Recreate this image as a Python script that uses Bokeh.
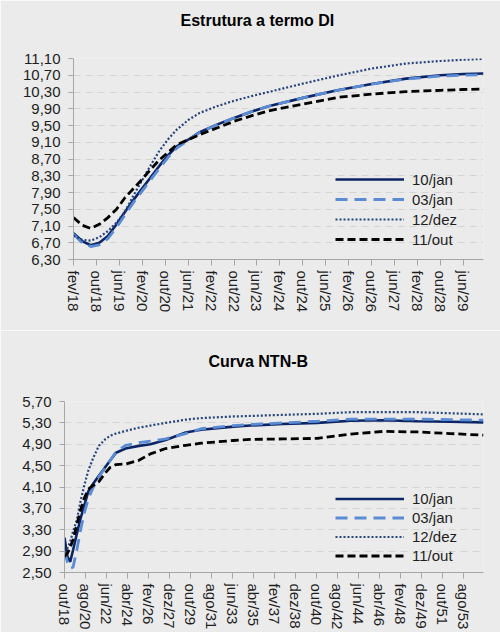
from bokeh.plotting import figure
from bokeh.models import FixedTicker, Legend, LegendItem, Range1d, Title
from bokeh.embed import file_html
from bokeh.resources import INLINE

# ---------------- DI curve (x = months since fev/18) ----------------
di_months = [0, 3, 6, 9, 12, 15, 18, 21, 24, 27, 30, 33, 36, 40, 44, 50, 56, 62, 68, 80, 92, 104, 116, 128, 136, 143]
di_10jan = [6.93, 6.74, 6.64, 6.70, 6.86, 7.14, 7.44, 7.73, 8.00, 8.27, 8.54, 8.79, 9.00, 9.16, 9.34, 9.52, 9.68, 9.83, 9.96, 10.16, 10.34, 10.49, 10.62, 10.70, 10.73, 10.74]
di_03jan = [6.90, 6.70, 6.61, 6.65, 6.80, 7.07, 7.37, 7.67, 7.94, 8.21, 8.48, 8.74, 8.96, 9.15, 9.33, 9.52, 9.68, 9.83, 9.96, 10.16, 10.34, 10.49, 10.61, 10.68, 10.70, 10.71]
di_12dez = [6.87, 6.77, 6.75, 6.83, 6.98, 7.18, 7.45, 7.84, 8.20, 8.56, 8.90, 9.17, 9.40, 9.63, 9.80, 9.96, 10.09, 10.20, 10.30, 10.50, 10.69, 10.86, 10.98, 11.04, 11.07, 11.09]
di_11out = [7.30, 7.12, 7.04, 7.14, 7.30, 7.50, 7.78, 8.00, 8.22, 8.46, 8.68, 8.86, 9.04, 9.16, 9.28, 9.44, 9.60, 9.73, 9.85, 10.01, 10.17, 10.25, 10.31, 10.34, 10.36, 10.37]
di_tick_months = [0, 8, 16, 24, 32, 40, 48, 56, 64, 72, 80, 88, 96, 104, 112, 120, 128, 136]
di_tick_labels = ["fev/18", "out/18", "jun/19", "fev/20", "out/20", "jun/21", "fev/22", "out/22", "jun/23",
                  "fev/24", "out/24", "jun/25", "fev/26", "out/26", "jun/27", "fev/28", "out/28", "jun/29"]
di_yticks = [6.3, 6.7, 7.1, 7.5, 7.9, 8.3, 8.7, 9.1, 9.5, 9.9, 10.3, 10.7, 11.1]
di_ylabels = ["6,30", "6,70", "7,10", "7,50", "7,90", "8,30", "8,70", "9,10", "9,50", "9,90", "10,30", "10,70", "11,10"]

# ---------------- NTN-B curve (x = months since out/18) ----------------
ntnb_months = [0, 3, 6, 9, 13, 17, 21, 25, 30, 36, 43, 48, 54, 64, 78, 90, 106, 127, 143, 177, 195, 229, 265, 300, 334, 370, 404, 439]
ntnb_10jan = [3.15, 2.80, 2.70, 2.92, 3.23, 3.52, 3.77, 4.02, 4.16, 4.31, 4.48, 4.60, 4.74, 4.82, 4.87, 4.90, 4.98, 5.12, 5.17, 5.23, 5.25, 5.28, 5.30, 5.34, 5.35, 5.33, 5.32, 5.31]
ntnb_03jan = [2.90, 2.70, 2.58, 2.60, 2.93, 3.31, 3.63, 3.88, 4.09, 4.29, 4.47, 4.60, 4.76, 4.88, 4.93, 4.96, 5.00, 5.10, 5.19, 5.25, 5.27, 5.30, 5.33, 5.37, 5.37, 5.37, 5.36, 5.35]
ntnb_12dez = [2.80, 2.95, 3.08, 3.27, 3.49, 3.85, 4.15, 4.41, 4.64, 4.87, 5.00, 5.06, 5.10, 5.15, 5.21, 5.25, 5.30, 5.36, 5.39, 5.42, 5.43, 5.45, 5.47, 5.50, 5.50, 5.50, 5.48, 5.46]
ntnb_11out = [2.80, 2.86, 2.97, 3.12, 3.40, 3.68, 3.90, 4.06, 4.13, 4.20, 4.37, 4.47, 4.52, 4.53, 4.60, 4.72, 4.82, 4.88, 4.92, 4.97, 4.99, 5.00, 5.01, 5.09, 5.14, 5.13, 5.10, 5.07]
ntnb_tick_months = [0, 22, 44, 66, 88, 110, 132, 154, 176, 198, 220, 242, 264, 286, 308, 330, 352, 374, 396, 418]
ntnb_tick_labels = ["out/18", "ago/20", "jun/22", "abr/24", "fev/26", "dez/27", "out/29", "ago/31", "jun/33", "abr/35",
                    "fev/37", "dez/38", "out/40", "ago/42", "jun/44", "abr/46", "fev/48", "dez/49", "out/51", "ago/53"]
ntnb_yticks = [2.5, 2.9, 3.3, 3.7, 4.1, 4.5, 4.9, 5.3, 5.7]
ntnb_ylabels = ["2,50", "2,90", "3,30", "3,70", "4,10", "4,50", "4,90", "5,30", "5,70"]

series_names = ["10/jan", "03/jan", "12/dez", "11/out"]

BG = "#ebebeb"
AX = "#a6a6a6"
TXT = "#1e1e1e"
FONT = "Liberation Sans"
STYLES = [
    dict(line_color="#0b2566", line_width=2.6, line_dash="solid"),
    dict(line_color="#5b8bd2", line_width=2.8, line_dash="12 7"),
    dict(line_color="#25437c", line_width=2.2, line_dash="2 2"),
    dict(line_color="#000000", line_width=2.8, line_dash="8 4"),
]


def make_fig(title, xs, ys_list, xmax, yr, yticks, ylabels, xticks, xlabels, height,
             b_top, b_bottom, b_left, legend_loc, row_h, title_offset, title_gap):
    p = figure(width=500, height=height, output_backend="svg", toolbar_location=None,
               x_range=Range1d(0, xmax), y_range=Range1d(*yr),
               min_border_left=b_left, min_border_right=17,
               min_border_top=b_top, min_border_bottom=b_bottom,
               background_fill_color=BG, border_fill_color=BG, outline_line_color=None)
    p.styles = {"vertical-align": "top"}

    xa = p.xaxis[0]
    xa.ticker = FixedTicker(ticks=xticks)
    xa.major_label_overrides = {t: l for t, l in zip(xticks, xlabels)}
    xa.major_label_orientation = "vertical"
    xa.axis_line_color = AX
    xa.major_tick_line_color = AX
    xa.minor_tick_line_color = None
    xa.major_tick_in = 0
    xa.major_tick_out = 6
    xa.major_label_standoff = 5
    xa.major_label_text_font = FONT
    xa.major_label_text_font_size = "15px"
    xa.major_label_text_color = TXT

    ya = p.yaxis[0]
    ya.ticker = FixedTicker(ticks=yticks)
    ya.major_label_overrides = {t: l for t, l in zip(yticks, ylabels)}
    ya.axis_line_color = AX
    ya.major_tick_line_color = AX
    ya.minor_tick_line_color = None
    ya.major_tick_in = 0
    ya.major_tick_out = 5
    ya.major_label_standoff = 8
    ya.major_label_text_font = FONT
    ya.major_label_text_font_size = "15px"
    ya.major_label_text_color = TXT

    p.xgrid.visible = False
    p.ygrid.grid_line_color = "#d4d4d4"
    p.ygrid.grid_line_dash = "7 5"
    p.ygrid.grid_line_width = 1

    items = []
    for name, ys, st in zip(series_names, ys_list, STYLES):
        r = p.line(xs, ys, **st)
        items.append(LegendItem(label=name, renderers=[r]))
    leg = Legend(items=items, location=legend_loc, glyph_width=69, glyph_height=row_h,
                 label_height=row_h, label_standoff=8, spacing=0, padding=0, margin=0,
                 background_fill_alpha=0, border_line_alpha=0,
                 label_text_font=FONT, label_text_font_size="15px", label_text_color=TXT)
    p.add_layout(leg)

    # title: a spacer line next to the frame, then the real title above it
    p.title.text = ""
    spacer = Title(text=" ", text_font_size="2px", standoff=title_gap, text_color=BG)
    p.add_layout(spacer, "above")
    t = Title(text=title, align="left", offset=title_offset, standoff=0, text_font=FONT,
              text_font_size="16px", text_font_style="bold", text_color="#000000")
    p.add_layout(t, "above")
    return p


p1 = make_fig("Estrutura a termo DI", di_months, [di_10jan, di_03jan, di_12dez, di_11out],
              143, (6.3, 11.1), di_yticks, di_ylabels, di_tick_months, di_tick_labels, 330,
              58, 71, 73, (262, 10), 20, 107, 26)
p2 = make_fig("Curva NTN-B", ntnb_months, [ntnb_10jan, ntnb_03jan, ntnb_12dez, ntnb_11out],
              439, (2.5, 5.7), ntnb_yticks, ntnb_ylabels, ntnb_tick_months, ntnb_tick_labels, 302,
              71, 57, 64, (271, 7), 19, 144, 28)

open("out.html", "w").write(file_html([p1, p2], INLINE))
